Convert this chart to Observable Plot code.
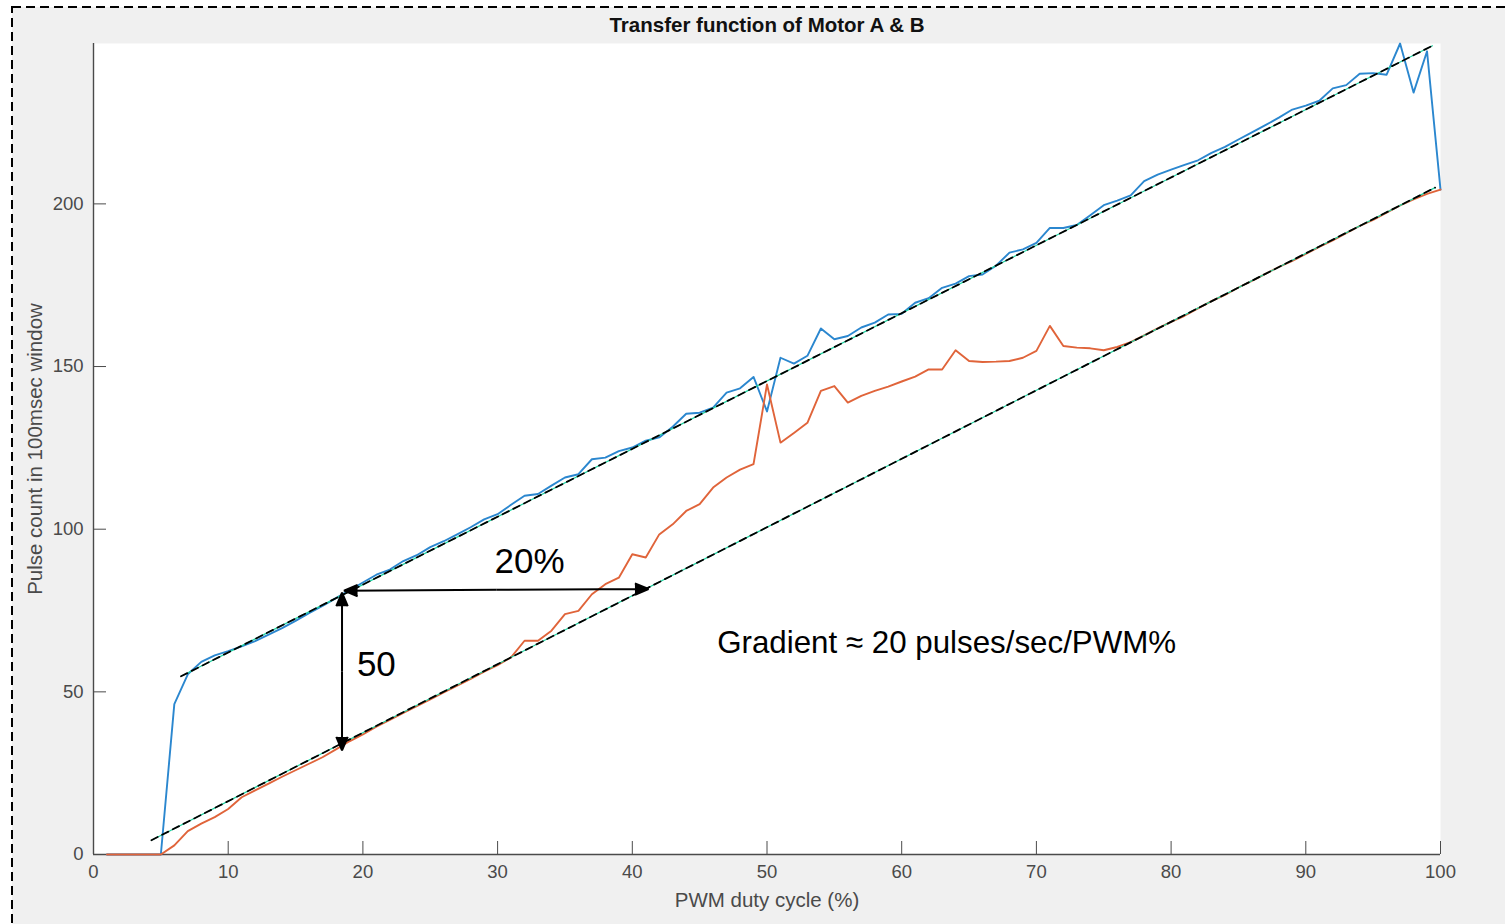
<!DOCTYPE html>
<html><head><meta charset="utf-8">
<script src="https://cdn.jsdelivr.net/npm/d3@7"></script>
<script src="https://cdn.jsdelivr.net/npm/@observablehq/plot@0.6"></script>
<style>
html,body{margin:0;padding:0;background:#fff;overflow:hidden;width:1505px;height:924px}
#bg{position:absolute;left:0;top:0}
#chart{position:absolute;left:0;top:0}
</style></head><body>
<svg id="bg" width="1505" height="924"><rect x="12" y="7" width="1600" height="1000" fill="#f0f0f0" stroke="#000" stroke-width="2" stroke-dasharray="9 5"/></svg>
<div id="chart"></div>
<script>
const title = "Transfer function of Motor A & B";
const xLabel = "PWM duty cycle (%)";
const yLabel = "Pulse count in 100msec window";
const xTicks = [0,10,20,30,40,50,60,70,80,90,100];
const yTicks = [0,50,100,150,200];

const pwm = [1,2,3,4,5,6,7,8,9,10,11,12,13,14,15,16,17,18,19,20,21,22,23,24,25,26,27,28,29,30,31,32,33,34,35,36,37,38,39,40,41,42,43,44,45,46,47,48,49,50,51,52,53,54,55,56,57,58,59,60,61,62,63,64,65,66,67,68,69,70,71,72,73,74,75,76,77,78,79,80,81,82,83,84,85,86,87,88,89,90,91,92,93,94,95,96,97,98,99,100];
const motorA = [0,0,0,0,0,46.2,55.4,59.2,61.2,62.5,
  64,65.6,67.6,69.6,71.8,74.2,76.4,78.8,81.2,83.6,
  86,87.6,90.2,92,94.5,96.3,98.4,100.6,103,104.6,
  107.5,110.3,110.8,113.4,115.9,116.9,121.5,122,124,125.1,
  127.2,128.2,131.5,135.5,135.8,137.4,142,143.3,146.8,136.2,
  152.7,150.9,153.3,161.7,158.4,159.4,162,163.5,166,166.2,
  169.6,171,174.2,175.5,177.8,178.3,181,185,186,188,
  192.6,192.6,193.5,196.5,199.6,201,202.6,207,209,210.5,
  212,213.4,215.7,217.5,219.8,222,224.2,226.5,229,230.2,
  231.7,235.5,236.5,240,240.2,239.7,249.3,234.2,246.9,204.4];
const motorB = [0,0,0,0,0,2.8,7.2,9.5,11.5,14,
  17.6,19.7,21.8,23.9,25.9,27.9,29.9,32.3,34.8,36.9,
  39.3,41.4,43.5,45.6,47.7,49.8,51.9,54,56.2,58.2,
  60.6,65.7,65.7,68.8,73.9,74.9,80,83.1,85.1,92.3,
  91.3,98.4,101.5,105.6,107.7,112.8,115.9,118.3,120,144.5,
  126.6,129.6,132.7,142.5,144,138.9,141,142.5,143.8,145.4,
  146.9,149.1,149.1,155,151.7,151.4,151.5,151.7,152.7,154.8,
  162.5,156.3,155.8,155.6,155,156,157.5,159.6,161.7,163.7,
  165.6,167.9,170.1,172,174.3,176.3,178.5,180.6,182.5,184.6,
  186.8,188.8,191,193.2,195.1,197.3,199.5,201.4,203.1,204.4];

// fitted lines (endpoints)
const fitAx = [6.5, 99.4], fitAy = [54.8, 248.6];
const fitBx = [4.3, 99.6], fitBy = [4.4, 205.0];

// double-headed annotation arrows: from mid point to both tips
const arrowFromX = [18.45, 18.45, 29.9, 29.9];
const arrowFromY = [56.2, 56.2, 81.35, 81.35];
const arrowToX   = [18.45, 18.45, 18.6, 41.2];
const arrowToY   = [80.5, 32.0, 81.1, 81.6];

const bigLabels = ["50", "20%"], bigLabelX = [21.0, 32.37], bigLabelY = [58.3, 90.1];
const gradientText = "Gradient \u2248 20 pulses/sec/PWM%", gradientX = 46.3, gradientY = 65.1;

const seriesA = pwm.map((x, i) => ({x, y: motorA[i]}));
const seriesB = pwm.map((x, i) => ({x, y: motorB[i]}));
const fitA = fitAx.map((x, i) => ({x, y: fitAy[i]}));
const fitB = fitBx.map((x, i) => ({x, y: fitBy[i]}));
const arrows = arrowFromX.map((x1, i) => ({x1, y1: arrowFromY[i], x2: arrowToX[i], y2: arrowToY[i]}));
const big = bigLabels.map((t, i) => ({t, x: bigLabelX[i], y: bigLabelY[i]}));

const FONT = "'Liberation Sans', Arial, Helvetica, sans-serif";
const AX = "#4a4a4a";

const chart = Plot.plot({
  width: 1505, height: 924,
  marginLeft: 93, marginRight: 65, marginTop: 43, marginBottom: 70,
  x: {domain: [0, 100]},
  y: {domain: [0, 249.3]},
  style: {background: "transparent", fontFamily: FONT, overflow: "visible"},
  marks: [
    Plot.frame({fill: "white", stroke: "none"}),
    Plot.axisX(xTicks, {tickSize: 0, tickPadding: 10, fontSize: 18.5, fill: AX, label: null}),
    Plot.axisY(yTicks, {tickSize: 0, tickPadding: 10, fontSize: 18.5, fill: AX, label: null}),
    Plot.axisX(xTicks, {tickSize: 13, dy: -13, tickFormat: () => "", stroke: AX, label: null}),
    Plot.axisY(yTicks, {tickSize: 13, dx: 13, tickFormat: () => "", stroke: AX, label: null}),
    Plot.ruleY([0], {stroke: AX, strokeWidth: 1.4}),
    Plot.ruleX([0], {stroke: AX, strokeWidth: 1.4}),
    Plot.line(seriesA, {x: "x", y: "y", stroke: "#2b87cf", strokeWidth: 1.9}),
    Plot.line(seriesB, {x: "x", y: "y", stroke: "#e0643a", strokeWidth: 1.9}),
    Plot.line(fitA, {x: "x", y: "y", stroke: "#1ed3a0", strokeWidth: 1.2}),
    Plot.line(fitB, {x: "x", y: "y", stroke: "#1ed3a0", strokeWidth: 1.2}),
    Plot.line(fitA, {x: "x", y: "y", stroke: "#000", strokeWidth: 1.8, strokeDasharray: "7,5"}),
    Plot.line(fitB, {x: "x", y: "y", stroke: "#000", strokeWidth: 1.8, strokeDasharray: "7,5"}),
    Plot.arrow(arrows, {x1: "x1", y1: "y1", x2: "x2", y2: "y2", stroke: "#000", fill: "#000", strokeWidth: 2, headLength: 11, headAngle: 46, strokeLinejoin: "miter", strokeLinecap: "butt"}),
    Plot.text(big, {x: "x", y: "y", text: "t", fontSize: 35, fill: "#000", textAnchor: "middle"}),
    Plot.text([gradientText], {x: gradientX, y: gradientY, text: d => d, fontSize: 31.3, fill: "#000", textAnchor: "start"}),
    Plot.text([title], {frameAnchor: "top", dy: -18, lineAnchor: "middle", fontSize: 20.5, fontWeight: "bold", fill: "#111"}),
    Plot.text([xLabel], {frameAnchor: "bottom", dy: 46, lineAnchor: "middle", fontSize: 20.5, fill: AX}),
    Plot.text([yLabel], {frameAnchor: "left", dx: -58, rotate: -90, textAnchor: "middle", lineAnchor: "middle", fontSize: 20.5, fill: AX})
  ]
});
document.getElementById("chart").appendChild(chart);
</script>
</body></html>
